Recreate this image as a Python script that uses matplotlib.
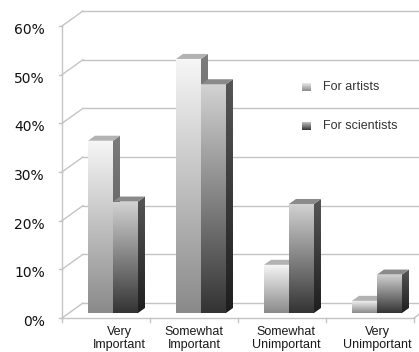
import numpy as np
import matplotlib
matplotlib.use("Agg")
import matplotlib.pyplot as plt
from matplotlib.patches import Polygon

# survey answers, percent of respondents
categories = ["Very\nImportant", "Somewhat\nImportant", "Somewhat\nUnimportant", "Very\nUnimportant"]
series_names = ["For artists", "For scientists"]
artists = [35.4, 52.2, 9.9, 2.5]
scientists = [22.9, 47.0, 22.4, 7.9]
y_ticks = [0, 10, 20, 30, 40, 50, 60]
y_tick_labels = ["0%", "10%", "20%", "30%", "40%", "50%", "60%"]

# pixel scale of the plot box (figure is 419x352 at dpi 100)
PX_CAT = 88.0       # pixels per category
PX_PCT = 4.867      # pixels per percent
X0_PX, Y0_PX = 62, 318   # front-left corner of the floor
W_PX, H_PX = 419, 352

# 3d depth of the walls, and bar slab inside it
DX = 21 / PX_CAT
DY = 15 / PX_PCT
BDX, BDY = DX / 3, DY / 3
BAR_W = 0.284
BAR_START = 0.216

GRID = "#c4c4c4"
STYLES = [
    dict(front=("#f6f6f6", "#8a8a8a"), side=("#7c7c7c", "#4c4c4c"), top="#b2b2b2"),
    dict(front=("#d2d2d2", "#343434"), side=("#565656", "#1e1e1e"), top="#8a8a8a"),
]
label_shift = [0.15, 0.0, 0.05, 0.08]


def hex_rgb(h):
    h = h.lstrip("#")
    return np.array([int(h[i:i + 2], 16) / 255 for i in (0, 2, 4)])


def gradient_poly(ax, pts, top, bottom, z):
    pts = np.asarray(pts)
    xmin, ymin = pts.min(axis=0)
    xmax, ymax = pts.max(axis=0)
    t = np.linspace(0, 1, 64)[:, None, None]
    img = (1 - t) * hex_rgb(top) + t * hex_rgb(bottom)
    poly = Polygon(pts, closed=True, facecolor="none", edgecolor="none", zorder=z)
    ax.add_patch(poly)
    im = ax.imshow(img, extent=(xmin, xmax, ymin, ymax), origin="upper",
                   aspect="auto", interpolation="bilinear", zorder=z)
    im.set_clip_path(poly)


def draw_bar(ax, xl, v, style, z):
    xl = xl + BDX
    xr = xl + BAR_W
    yb, yt = BDY, v + BDY
    gradient_poly(ax, [(xl, yb), (xr, yb), (xr, yt), (xl, yt)], *style["front"], z)
    gradient_poly(ax, [(xr, yb), (xr + BDX, yb + BDY), (xr + BDX, yt + BDY), (xr, yt)],
                  *style["side"], z)
    ax.add_patch(Polygon([(xl, yt), (xr, yt), (xr + BDX, yt + BDY), (xl + BDX, yt + BDY)],
                         closed=True, facecolor=style["top"], edgecolor="none", zorder=z))


fig = plt.figure(figsize=(W_PX / 100, H_PX / 100), dpi=100)
ax = fig.add_axes([0, 0, 1, 1])
ax.axis("off")

n = len(categories)
# back wall gridlines and side wall diagonals
for v in y_ticks:
    ax.plot([DX, n + DX + 1], [v + DY, v + DY], color=GRID, lw=1, zorder=1)
    ax.plot([0, DX], [v, v + DY], color=GRID, lw=1, zorder=1)
    ax.plot([-3 / PX_CAT, 0], [v, v], color=GRID, lw=1, zorder=1)
# floor and front axes
ax.plot([0, 0], [0, y_ticks[-1]], color=GRID, lw=1, zorder=1)
ax.plot([0, n], [0, 0], color=GRID, lw=1, zorder=1)
ax.plot([n, n + DX], [0, DY], color=GRID, lw=1, zorder=1)
for i in range(n + 1):
    ax.plot([i, i], [0, -4 / PX_PCT], color=GRID, lw=1, zorder=1)

z = 5
for i in range(n):
    for j, vals in enumerate([artists, scientists]):
        draw_bar(ax, i + BAR_START + j * BAR_W, vals[i], STYLES[j], z)
        z += 1

for v, lab in zip(y_ticks, y_tick_labels):
    ax.text(-17 / PX_CAT, v - 0.8, lab, ha="right", va="center",
            fontsize=10, family="DejaVu Sans", color="#111111")

for i, lab in enumerate(categories):
    ax.text(i + 0.5 + label_shift[i], -8 / PX_PCT, lab, ha="center", va="top",
            fontsize=9, family="Liberation Sans", color="#1a1a1a", linespacing=1.15)

# legend
leg_x = (302 - X0_PX) / PX_CAT
for j, name in enumerate(series_names):
    yc = (Y0_PX - (87 + 39 * j)) / PX_PCT
    gradient_poly(ax, [(leg_x, yc - 0.85), (leg_x + 9 / PX_CAT, yc - 0.85),
                       (leg_x + 9 / PX_CAT, yc + 0.85), (leg_x, yc + 0.85)],
                  STYLES[j]["front"][0], STYLES[j]["front"][1], 30)
    ax.text(leg_x + 21 / PX_CAT, yc, name, ha="left", va="center",
            fontsize=9, family="Liberation Sans", color="#333333")

ax.set_xlim(-X0_PX / PX_CAT, (W_PX - X0_PX) / PX_CAT)
ax.set_ylim(-(H_PX - Y0_PX) / PX_PCT, Y0_PX / PX_PCT)

fig.savefig("out.png", dpi=100)
